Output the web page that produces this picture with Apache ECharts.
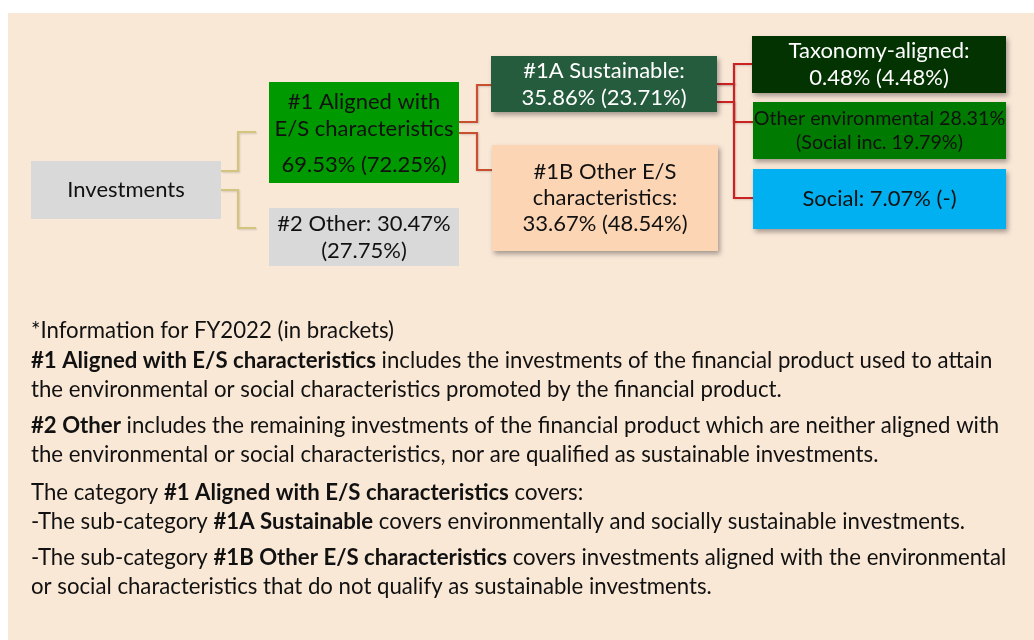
<!DOCTYPE html>
<html><head><meta charset="utf-8">
<script src="https://cdn.jsdelivr.net/npm/echarts@6/dist/echarts.min.js"></script>
<style>html,body{margin:0;padding:0;background:#ffffff}#c{width:1034px;height:640px}</style>
</head><body><div id="c"></div><script>
// ---------- DATA ----------
const nodeTitles = ['Investments', '#1 Aligned with\nE/S characteristics', '#2 Other:', '#1A Sustainable:',
  '#1B Other E/S\ncharacteristics:', 'Taxonomy-aligned:', 'Other environmental', 'Social:'];
const shareFY2023 = [null, 69.53, 30.47, 35.86, 33.67, 0.48, 28.31, 7.07];
const shareFY2022 = [null, 72.25, 27.75, 23.71, 48.54, 4.48, null, null];
const socialIncludedFY2023 = [null, null, null, null, null, null, 19.79, null];
const parentOf = [-1, 0, 0, 1, 1, 3, 3, 3];
const noteLines = [
  '*Information for FY2022 (in brackets)',
  '{b|#1 Aligned with E/S characteristics} includes the investments of the financial product used to attain',
  'the environmental or social characteristics promoted by the financial product.',
  '{b|#2 Other} includes the remaining investments of the financial product which are neither aligned with',
  'the environmental or social characteristics, nor are qualified as sustainable investments.',
  'The category {b|#1 Aligned with E/S characteristics} covers:',
  '-The sub-category {b|#1A Sustainable} covers environmentally and socially sustainable investments.',
  '-The sub-category {b|#1B Other E/S characteristics} covers investments aligned with the environmental',
  'or social characteristics that do not qualify as sustainable investments.'
];

// ---------- LAYOUT / STYLE ----------
const FONT = 'Lato, "Noto Sans", sans-serif';
const boxes = [
  [31, 161, 221, 219], [269, 82, 459, 183], [269, 208, 459, 266], [491, 56, 717, 112],
  [492, 145, 718, 251], [752, 36, 1006, 93], [753, 102, 1006, 159], [753, 169, 1006, 229]
];
const boxFill = ['#d9d9d9', '#009900', '#d9d9d9', '#265c3e', '#fcd5b5', '#023300', '#007a00', '#00b0f0'];
const textFill = ['#111', '#111', '#111', '#fff', '#111', '#fff', '#111', '#111'];
const boxShadow = [false, false, false, true, true, true, true, true];
const valueSep = ['', '\n', ' ', '\n', '\n', '\n', ' ', ' '];
const fontSize = [22, 22, 22, 22, 22, 22, 19.7, 22];
const lineH = [26, 27, 27, 27, 26, 27, 23.5, 26];
const textDy = [0, 5, 0, 0, 0, 0, 0, 0];
const noteFontSize = 22.2;
// link: [parentY, elbowX, childY, endX]
const linkGeom = [null, [171, 238, 132, 256], [190, 238, 228, 256], [122, 477, 85, 491], [133, 477, 170, 492],
  [84, 734, 64, 752], [102, 734, 122, 753], [84, 734, 198, 753]];
const linkColor = ['', '#d3c57e', '#d3c57e', '#c9502e', '#c9502e', '#cc2222', '#cc2222', '#cc2222'];
const noteY = [331, 361, 390, 426, 455, 493, 522, 558, 587];

function pct(v) { return v == null ? '-' : v.toFixed(2) + '%'; }
function label(i) {
  if (i === 0) return nodeTitles[0];
  if (i === 6) return nodeTitles[i] + ' ' + pct(shareFY2023[i]) + '\n(Social inc. ' + pct(socialIncludedFY2023[i]) + ')';
  const val = pct(shareFY2023[i]);
  const prev = '(' + pct(shareFY2022[i]) + ')';
  if (i === 1) return '{a|' + nodeTitles[i].split('\n').join('}\n{a|') + '}\n{v|' + val + ' ' + prev + '}';
  if (i === 2) return nodeTitles[i] + ' ' + val + '\n' + prev;
  return nodeTitles[i] + valueSep[i] + val + ' ' + prev;
}

const nodeData = nodeTitles.map((t, i) => [i]);
const linkData = parentOf.map((p, i) => [i, p]).filter(d => d[1] >= 0);

const chart = echarts.init(document.getElementById('c'), null, {renderer: 'canvas'});
const graphics = [{
  type: 'rect', shape: {x: 8, y: 13, width: 1026, height: 627}, style: {fill: '#fae8d7'}, z: -10, silent: true
}];
noteLines.forEach((ln, k) => {
  graphics.push({
    type: 'text', x: 31, y: noteY[k], z: 10,
    style: {
      text: ln, fill: '#111', font: noteFontSize + 'px ' + FONT, verticalAlign: 'middle', align: 'left',
      rich: {b: {fontWeight: 'bold', fontSize: noteFontSize, fontFamily: FONT, fill: '#111'}}
    }
  });
});

chart.setOption({
  animation: false,
  grid: {left: 0, right: 0, top: 0, bottom: 0},
  xAxis: {type: 'value', min: 0, max: 1034, show: false},
  yAxis: {type: 'value', min: 0, max: 640, inverse: true, show: false},
  graphic: graphics,
  series: [
    {
      type: 'custom', data: linkData, z: 2,
      renderItem: function (params, api) {
        const c = api.value(0), p = api.value(1);
        const g = linkGeom[c];
        const pts = [[boxes[p][2], g[0]], [g[1], g[0]], [g[1], g[2]], [g[3], g[2]]].map(q => api.coord(q));
        return {
          type: 'polyline', shape: {points: pts},
          style: {stroke: linkColor[c], lineWidth: 2.2, fill: null, shadowBlur: 2, shadowColor: 'rgba(0,0,0,0.15)', shadowOffsetX: 1, shadowOffsetY: 1}
        };
      }
    },
    {
      type: 'custom', data: nodeData, z: 3,
      renderItem: function (params, api) {
        const i = api.value(0);
        const b = boxes[i];
        const p0 = api.coord([b[0], b[1]]), p1 = api.coord([b[2], b[3]]);
        const cx = (p0[0] + p1[0]) / 2, cy = (p0[1] + p1[1]) / 2 + textDy[i];
        const rectStyle = {fill: boxFill[i]};
        if (boxShadow[i]) Object.assign(rectStyle, {shadowBlur: 5, shadowOffsetX: 2, shadowOffsetY: 3, shadowColor: 'rgba(0,0,0,0.35)'});
        return {
          type: 'group', children: [
            {type: 'rect', shape: {x: p0[0], y: p0[1], width: p1[0] - p0[0], height: p1[1] - p0[1]}, style: rectStyle},
            {type: 'text', style: {
              text: label(i), x: cx, y: cy, align: 'center', verticalAlign: 'middle',
              fill: textFill[i], font: fontSize[i] + 'px ' + FONT, lineHeight: lineH[i],
              rich: {
                a: {fontSize: fontSize[i], fontFamily: FONT, lineHeight: 27, fill: textFill[i]},
                v: {fontSize: fontSize[i], fontFamily: FONT, lineHeight: 45, fill: textFill[i]}
              }
            }}
          ]
        };
      }
    }
  ]
});
</script></body></html>
